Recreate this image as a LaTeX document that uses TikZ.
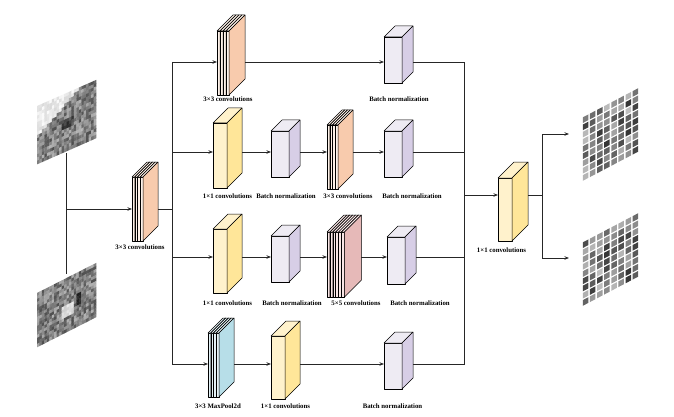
\documentclass[tikz,border=0pt]{standalone}
\usepackage{fontspec}
\setmainfont{Liberation Serif}
\usetikzlibrary{arrows.meta}

\definecolor{peachF}{HTML}{FDF1E8}
\definecolor{peachS}{HTML}{F8CBAD}
\definecolor{yelF}{HTML}{FFF2CC}
\definecolor{yelS}{HTML}{FFE699}
\definecolor{lavF}{HTML}{EEEBF3}
\definecolor{lavS}{HTML}{D7CEE6}
\definecolor{pinkF}{HTML}{F9E6E6}
\definecolor{pinkS}{HTML}{E6B9B8}
\definecolor{blueF}{HTML}{E4F2F6}
\definecolor{blueS}{HTML}{B7DEE8}

\tikzset{
  face/.style={draw=black, line width=0.5pt, line join=round},
  link/.style={draw=black!85, line width=0.8pt},
  arr/.style={link, -{Stealth[length=4.5pt,width=3.5pt]}},
  lbl/.style={font=\fontsize{6.8}{8}\selectfont\bfseries, inner sep=0pt}
}

% #1 name, #2 x, #3 top, #4 row, #5 slab width, #6 height, #7 depth, #8 slabs, #9 colour
\newcommand{\layerblock}[9]{%
  \foreach \k in {1,...,#8}{%
    \pgfmathsetmacro{\xa}{#2+(\k-1)*#5}%
    \pgfmathsetmacro{\xb}{\xa+#5}%
    \filldraw[face, fill=#9F] (\xa,#3) rectangle (\xb,#3+#6);
    \filldraw[face, fill=#9F] (\xa,#3) -- (\xa+#7,#3-#7) -- (\xb+#7,#3-#7) -- (\xb,#3) -- cycle;
    \filldraw[face, fill=#9S] (\xb,#3) -- (\xb+#7,#3-#7) -- (\xb+#7,#3+#6-#7) -- (\xb,#3+#6) -- cycle;
  }%
  \coordinate (#1-w) at (#2,#4);
  \coordinate (#1-e) at ({#2+#8*#5+#7},#4);
}

\begin{document}
\begin{tikzpicture}[x=1pt,y=-1pt]
\useasboundingbox (0,0) rectangle (674,417);

% input images
\pgfmathsetseed{11}
\begin{scope}[shift={(37,106)}, x={(59pt,26pt)}, y={(0pt,-58pt)}]
\foreach \i in {0,...,23}{
  \foreach \j in {0,...,17}{
    \pgfmathsetmacro{\g}{int((\j < 9-0.55*\i) ? 2+14*rnd : ((\i>9 && \i<15 && \j>7 && \j<11) ? 60+25*rnd : 30+40*rnd))}
    \fill[black!\g] ({\i/24},{\j/18}) -- ({(\i+1)/24+.006},{\j/18}) -- ({(\i+1)/24+.006},{(\j+1)/18+.006}) -- ({\i/24},{(\j+1)/18+.006}) -- cycle;
  }
}
\end{scope}
\begin{scope}[shift={(37,293)}, x={(59pt,30pt)}, y={(0pt,-54pt)}]
\foreach \i in {0,...,23}{
  \foreach \j in {0,...,17}{
    \pgfmathsetmacro{\g}{int((\i>9 && \i<15 && \j>8 && \j<13) ? 8+12*rnd : ((\i>15 && \i<18 && \j>6 && \j<11) ? 75+15*rnd : 30+40*rnd))}
    \fill[black!\g] ({\i/24},{\j/18}) -- ({(\i+1)/24+.006},{\j/18}) -- ({(\i+1)/24+.006},{(\j+1)/18+.006}) -- ({\i/24},{(\j+1)/18+.006}) -- cycle;
  }
}
\end{scope}
\coordinate (img1) at (66,153);
\coordinate (img2) at (66,274);

% blocks
\layerblock{conv0}{132}{177}{209}{2.75}{64}{15}{4}{peach}
\node[lbl] (conv0-l) at (140,247) {3×3 convolutions};

\layerblock{conv1}{217}{31}{62}{3}{64}{16}{4}{peach}
\layerblock{bn1}{384}{37}{62}{18}{46}{11}{1}{lav}
\node[lbl] (conv1-l) at (228,99) {3×3 convolutions};
\node[lbl] (bn1-l) at (399,99) {Batch normalization};

\layerblock{ya}{213}{123}{152}{14}{65}{15}{1}{yel}
\layerblock{bna}{271}{131}{152}{18}{46}{11}{1}{lav}
\layerblock{conva}{327}{125}{152}{2.75}{64}{15}{4}{peach}
\layerblock{bnb}{384}{131}{152}{18}{46}{11}{1}{lav}
\node[lbl] (ya-l) at (227.5,196) {1×1 convolutions};
\node[lbl] (bna-l) at (286,196) {Batch normalization};
\node[lbl] (conva-l) at (348,196) {3×3 convolutions};
\node[lbl] (bnb-l) at (412,196) {Batch normalization};

\layerblock{yb}{213}{229}{257}{14}{64}{15}{1}{yel}
\layerblock{bnc}{271}{236}{257}{18}{46}{11}{1}{lav}
\layerblock{convb}{327}{232}{257}{2.9}{65}{17}{6}{pink}
\layerblock{bnd}{387}{237}{257}{18}{47}{11}{1}{lav}
\node[lbl] (yb-l) at (227.5,303) {1×1 convolutions};
\node[lbl] (bnc-l) at (292,303) {Batch normalization};
\node[lbl] (convb-l) at (356,303) {5×5 convolutions};
\node[lbl] (bnd-l) at (420,303) {Batch normalization};

\layerblock{pool}{208}{333}{364}{2.75}{64}{15}{4}{blue}
\layerblock{yc}{271}{336}{364}{14}{63}{15}{1}{yel}
\layerblock{bne}{384}{343}{364}{18}{46}{11}{1}{lav}
\node[lbl] (pool-l) at (218,406) {3×3 MaxPool2d};
\node[lbl] (yc-l) at (285.5,406) {1×1 convolutions};
\node[lbl] (bne-l) at (392.5,406) {Batch normalization};

\layerblock{yout}{498}{178}{195}{14}{63}{16}{1}{yel}
\node[lbl] (yout-l) at (501.5,250) {1×1 convolutions};

% feature maps
\pgfmathsetseed{5}
\begin{scope}[shift={(582,117)}, x={(57pt,30pt)}, y={(0pt,-65pt)}]
\foreach \i in {0,...,7}{
  \foreach \j in {0,...,8}{
    \pgfmathsetmacro{\g}{int(25+55*rnd)}
    \fill[black!\g] ({\i/8+.014},{\j/9+.012}) -- ({(\i+1)/8-.014},{\j/9+.012}) -- ({(\i+1)/8-.014},{(\j+1)/9-.012}) -- ({\i/8+.014},{(\j+1)/9-.012}) -- cycle;
  }
}
\end{scope}
\begin{scope}[shift={(582,242)}, x={(57pt,30pt)}, y={(0pt,-65pt)}]
\foreach \i in {0,...,7}{
  \foreach \j in {0,...,8}{
    \pgfmathsetmacro{\g}{int(25+55*rnd)}
    \fill[black!\g] ({\i/8+.014},{\j/9+.012}) -- ({(\i+1)/8-.014},{\j/9+.012}) -- ({(\i+1)/8-.014},{(\j+1)/9-.012}) -- ({\i/8+.014},{(\j+1)/9-.012}) -- cycle;
  }
}
\end{scope}
\coordinate (fm1-w) at (569,134);
\coordinate (fm2-w) at (569,258);

% connections
\coordinate (busL) at (172,0);
\coordinate (busR) at (464,0);
\coordinate (split) at (542,0);

\draw[link] (img1) -- (img2);
\draw[arr] (img1 |- conv0-w) -- (conv0-w);
\draw[link] (conv0-e) -- (busL |- conv0-e);
\draw[link] (busL |- conv1-w) -- (busL |- pool-w);
\draw[arr] (busL |- conv1-w) -- (conv1-w);
\draw[arr] (busL |- ya-w) -- (ya-w);
\draw[arr] (busL |- yb-w) -- (yb-w);
\draw[arr] (busL |- pool-w) -- (pool-w);

\draw[arr] (conv1-e) -- (bn1-w);
\draw[arr] (ya-e) -- (bna-w);
\draw[arr] (bna-e) -- (conva-w);
\draw[arr] (conva-e) -- (bnb-w);
\draw[arr] (yb-e) -- (bnc-w);
\draw[arr] (bnc-e) -- (convb-w);
\draw[arr] (convb-e) -- (bnd-w);
\draw[arr] (pool-e) -- (yc-w);
\draw[arr] (yc-e) -- (bne-w);

\draw[link] (bn1-e) -- (busR |- bn1-e) -- (busR |- bne-e) -- (bne-e);
\draw[link] (bnb-e) -- (busR |- bnb-e);
\draw[link] (bnd-e) -- (busR |- bnd-e);
\draw[arr] (busR |- yout-w) -- (yout-w);

\draw[link] (yout-e) -- (split |- yout-e);
\draw[arr] (split |- yout-e) |- (fm1-w);
\draw[arr] (split |- yout-e) |- (fm2-w);
\end{tikzpicture}
\end{document}
